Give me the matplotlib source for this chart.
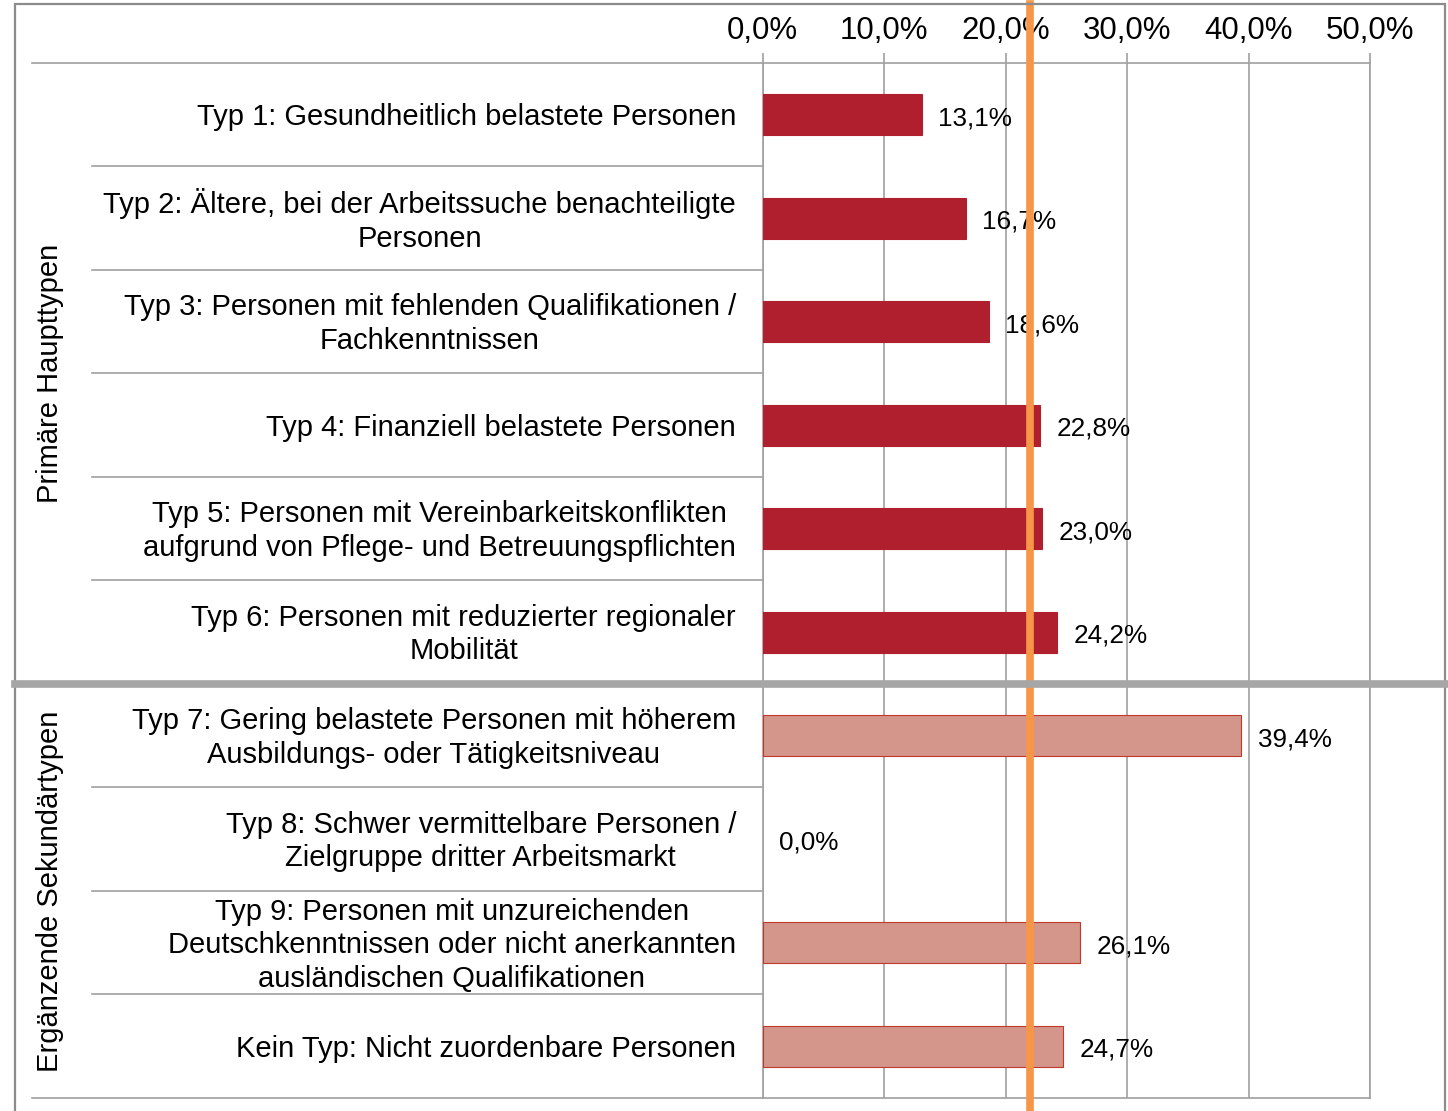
import matplotlib
matplotlib.use("Agg")
import matplotlib.pyplot as plt
import matplotlib.transforms as mtransforms
from matplotlib.patches import Rectangle
from matplotlib.lines import Line2D
import numpy as np

plt.rcParams['font.family'] = ['Liberation Sans', 'DejaVu Sans']

# data
labels = [
    "Typ 1: Gesundheitlich belastete Personen",
    "Typ 2: Ältere, bei der Arbeitssuche benachteiligte\nPersonen",
    "Typ 3: Personen mit fehlenden Qualifikationen /\nFachkenntnissen",
    "Typ 4: Finanziell belastete Personen",
    "Typ 5: Personen mit Vereinbarkeitskonflikten\naufgrund von Pflege- und Betreuungspflichten",
    "Typ 6: Personen mit reduzierter regionaler\nMobilität",
    "Typ 7: Gering belastete Personen mit höherem\nAusbildungs- oder Tätigkeitsniveau",
    "Typ 8: Schwer vermittelbare Personen /\nZielgruppe dritter Arbeitsmarkt",
    "Typ 9: Personen mit unzureichenden\nDeutschkenntnissen oder nicht anerkannten\nausländischen Qualifikationen",
    "Kein Typ: Nicht zuordenbare Personen",
]
values = [13.1, 16.7, 18.6, 22.8, 23.0, 24.2, 39.4, 0.0, 26.1, 24.7]
groups = ["Primäre Haupttypen", "Ergänzende Sekundärtypen"]
group_sizes = [6, 4]
average = 22.0
xticks = [0, 10, 20, 30, 40, 50]

W, H = 1448, 1111
fig = plt.figure(figsize=(W / 100, H / 100), dpi=100)
ax = fig.add_axes([762.7 / W, 1 - 1098 / H, (1370 - 762.7) / W, (1098 - 63) / H])

grid_c = "#a0a0a0"
dark = "#b01f2e"
light = "#d4958a"

y = np.arange(len(values))
colors = [dark] * group_sizes[0] + [light] * group_sizes[1]
edges = [dark] * group_sizes[0] + ["#c0392b"] * group_sizes[1]
lws = [0.8 if v > 0 else 0 for v in values]
ax.barh(y, values, height=0.4, color=colors, edgecolor=edges, linewidth=lws, zorder=3)

# value labels, slightly below bar centre like the original
for yi, v in zip(y, values):
    ax.annotate(f"{v:.1f}".replace(".", ",") + "%", (v, yi), xytext=(12, -2.5),
                textcoords="offset points", ha="left", va="center", fontsize=18.8, zorder=4)

ax.set_xlim(0, 50)
ax.set_ylim(len(values) - 0.5, -0.5)
ax.set_xticks(xticks)
ax.set_xticklabels([f"{t:.1f}".replace(".", ",") + "%" for t in xticks], fontsize=22.5)
ax.xaxis.tick_top()
ax.tick_params(axis="x", length=7, width=1.2, color=grid_c, pad=5.5)
ax.set_yticks([])
ax.grid(axis="x", color=grid_c, linewidth=1.2, zorder=0)
ax.set_axisbelow(True)
for s in ax.spines.values():
    s.set_color(grid_c)
    s.set_linewidth(1.2)

# average line
ax.axvline(average, ymin=-0.02, ymax=(1098 - 4) / (1098 - 63), color="#f79646",
           linewidth=5.5, clip_on=False, zorder=10)

# category labels and separator lines on the left
tr = mtransforms.blended_transform_factory(fig.transFigure, ax.transData)
for yi, lab in zip(y, labels):
    ax.text(736 / W, yi + 0.022, lab, transform=tr, ha="right", va="center",
            multialignment="center", fontsize=21, linespacing=1.25)

for b in [0.5, 1.5, 2.5, 3.5, 4.5, 6.5, 7.5, 8.5]:
    fig.add_artist(Line2D([92 / W, 762.7 / W], [b, b], transform=tr, color=grid_c, linewidth=1.2))
for b in [-0.5, len(values) - 0.5]:
    fig.add_artist(Line2D([32 / W, 762.7 / W], [b, b], transform=tr, color=grid_c, linewidth=1.2))

# group separator and group labels
sep = group_sizes[0] - 0.5
fig.add_artist(Line2D([15 / W, 1445 / W], [sep, sep], transform=tr, color="#a6a6a6", linewidth=5.5))
start = 0
for g, n in zip(groups, group_sizes):
    ax.text(50 / W, start + (n - 1) / 2, g, transform=tr, rotation=90, ha="center",
            va="center", fontsize=21)
    start += n

# outer frame
fig.add_artist(Rectangle((15 / W, -0.05), (1445 - 15) / W, (H - 4) / H + 0.05,
                         transform=fig.transFigure, fill=False, edgecolor="#8c8c8c", linewidth=1.6))

plt.savefig("out.png", dpi=100)
